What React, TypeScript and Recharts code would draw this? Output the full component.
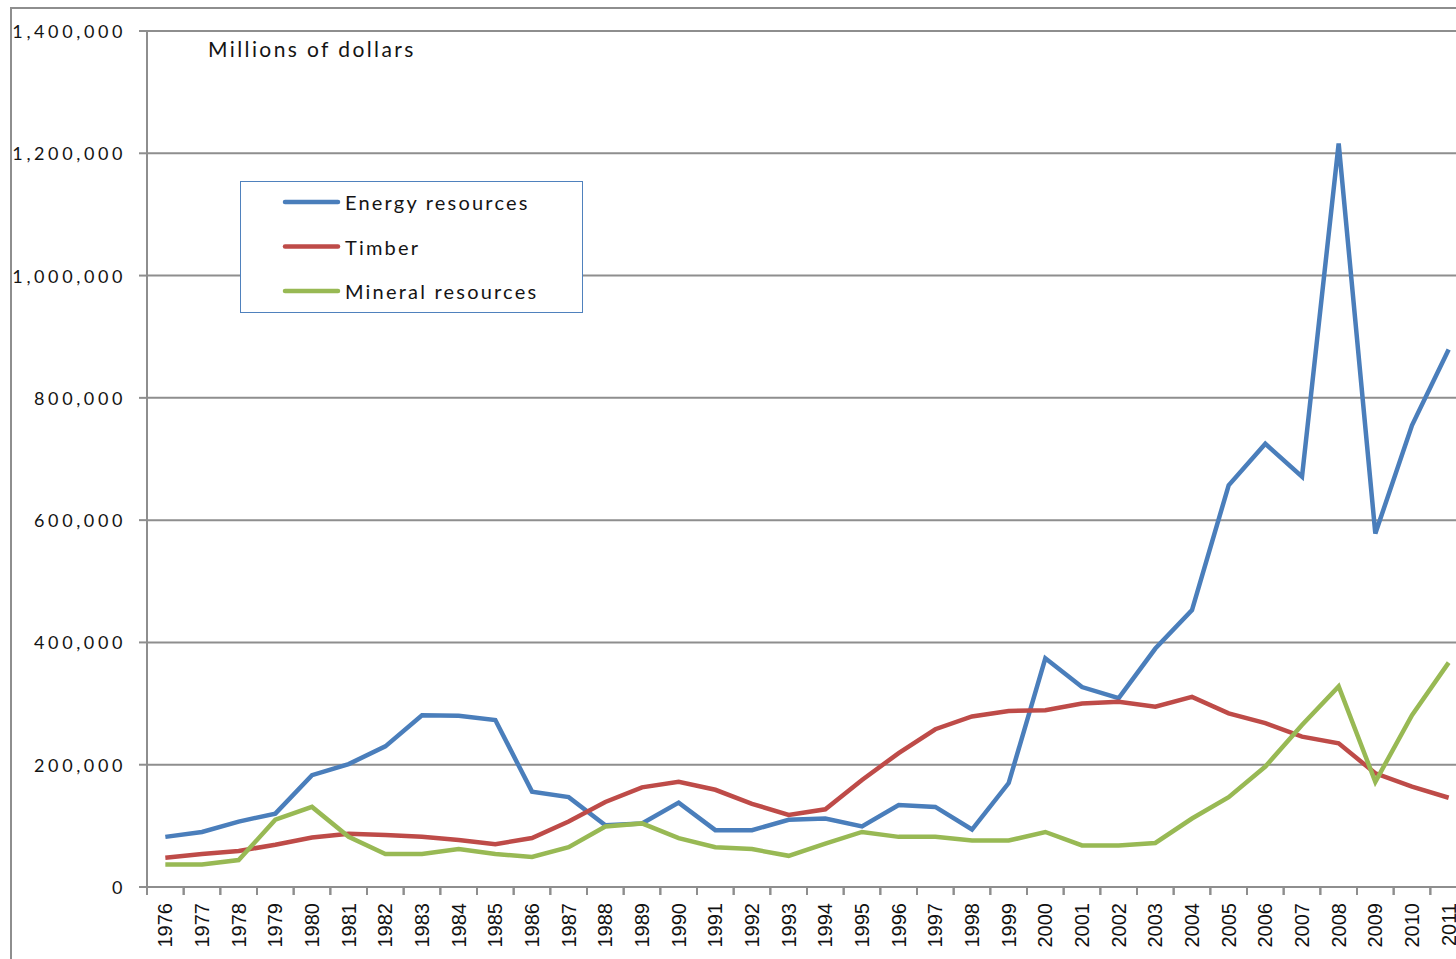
import React from 'react';
import { LineChart, Line, XAxis, YAxis, CartesianGrid, Legend } from 'recharts';

const years = ['1976','1977','1978','1979','1980','1981','1982','1983','1984','1985','1986','1987','1988','1989','1990','1991','1992','1993','1994','1995','1996','1997','1998','1999','2000','2001','2002','2003','2004','2005','2006','2007','2008','2009','2010','2011'];

const energy = [82000,90000,107000,120000,183000,201000,230000,281000,280000,273000,156000,147000,101000,104000,138000,93000,93000,110000,112000,99000,134000,131000,94000,170000,374000,327000,309000,390000,453000,657000,725000,671000,1216000,578000,755000,879000];

const timber = [48000,54000,59000,69000,81000,87000,85000,82000,77000,70000,80000,107000,139000,163000,172000,159000,136000,118000,127000,175000,219000,258000,279000,288000,289000,300000,303000,295000,311000,284000,268000,246000,235000,186000,164000,146000];

const mineral = [37000,37000,44000,110000,131000,82000,54000,54000,62000,54000,49000,65000,99000,104000,80000,65000,62000,51000,71000,90000,82000,82000,76000,76000,90000,68000,68000,72000,112000,147000,197000,265000,328000,172000,281000,367000];

const yTicks = [0,200000,400000,600000,800000,1000000,1200000,1400000];

const seriesNames = ['Energy resources','Timber','Mineral resources'];
const seriesColors = ['#4A7EBB','#BE4B48','#98B954'];

const data = years.map((year, i) => ({
  year,
  energy: energy[i],
  timber: timber[i],
  mineral: mineral[i],
}));

const CHART_W = 1480;
const CHART_H = 1000;
const MARGIN = { top: 31, right: 13, left: 10, bottom: 43 };
const Y_W = 137;
const X_H = 70;
const PLOT_W = CHART_W - MARGIN.left - Y_W - MARGIN.right;
const BAND = PLOT_W / years.length;
const GRID = '#8E8E8E';
const LABEL_FONT = 'Lato, "Open Sans", sans-serif';

const XTick = (props: any) => {
  const { x, y, payload } = props;
  return (
    <g>
      <line x1={x - BAND / 2} x2={x - BAND / 2} y1={y - 16} y2={y - 8} stroke={GRID} strokeWidth={2} />
      <line x1={x + BAND / 2} x2={x + BAND / 2} y1={y - 16} y2={y - 8} stroke={GRID} strokeWidth={2} />
      <text
        x={x}
        y={y}
        transform={`rotate(-90 ${x} ${y})`}
        textAnchor="end"
        dominantBaseline="central"
        fontFamily='"Liberation Sans", Arial, sans-serif'
        fontSize={20}
        fill="#111"
      >
        {payload.value}
      </text>
    </g>
  );
};

const YTick = (props: any) => {
  const { x, y, payload } = props;
  return (
    <text
      x={x}
      y={y}
      textAnchor="end"
      dominantBaseline="central"
      fontFamily={LABEL_FONT}
      fontSize={18}
      letterSpacing={3.6}
      fill="#141414"
    >
      {Number(payload.value).toLocaleString('en-US')}
    </text>
  );
};

const LegendBox = () => (
  <div style={{ width: 343, height: 132, border: '1px solid #4F81BD', background: '#fff', boxSizing: 'border-box' }}>
    <svg width={341} height={130} style={{ display: 'block' }}>
      {seriesNames.map((name, i) => (
        <g key={name}>
          <line x1={44} x2={97} y1={20 + i * 44.5} y2={20 + i * 44.5} stroke={seriesColors[i]} strokeWidth={4.5} strokeLinecap="round" />
          <text x={104} y={20 + i * 44.5} dominantBaseline="central" fontFamily={LABEL_FONT} fontSize={20} letterSpacing={2.2} fill="#141414">
            {name}
          </text>
        </g>
      ))}
    </svg>
  </div>
);

export default function App() {
  return (
    <div style={{ position: 'fixed', left: 0, top: 0, width: 1456, height: 959, overflow: 'hidden', background: '#fff' }}>
      <div style={{ position: 'absolute', left: 10, top: 7, width: 1500, height: 1000, borderLeft: `2px solid ${GRID}`, borderTop: `2px solid ${GRID}`, boxSizing: 'border-box' }} />
      <div style={{ position: 'absolute', left: 0, top: 0 }}>
        <LineChart width={CHART_W} height={CHART_H} data={data} margin={MARGIN}>
          <CartesianGrid vertical={false} stroke={GRID} strokeWidth={2} />
          <XAxis
            dataKey="year"
            height={X_H}
            interval={0}
            padding={{ left: BAND / 2, right: BAND / 2 }}
            tickSize={8}
            tickMargin={8}
            tickLine={false}
            axisLine={{ stroke: GRID, strokeWidth: 2 }}
            tick={<XTick />}
          />
          <YAxis
            width={Y_W}
            domain={[0, 1400000]}
            ticks={yTicks}
            interval={0}
            tickSize={8}
            tickMargin={13}
            tickLine={{ stroke: GRID, strokeWidth: 2 }}
            axisLine={{ stroke: GRID, strokeWidth: 2 }}
            tick={<YTick />}
          />
          <Legend
            layout="vertical"
            align="center"
            verticalAlign="middle"
            wrapperStyle={{ left: 240, top: 181, width: 343, height: 132 }}
            content={<LegendBox />}
          />
          <Line type="linear" dataKey="energy" name={seriesNames[0]} stroke={seriesColors[0]} strokeWidth={4.5} dot={false} isAnimationActive={false} />
          <Line type="linear" dataKey="timber" name={seriesNames[1]} stroke={seriesColors[1]} strokeWidth={4.5} dot={false} isAnimationActive={false} />
          <Line type="linear" dataKey="mineral" name={seriesNames[2]} stroke={seriesColors[2]} strokeWidth={4.5} dot={false} isAnimationActive={false} />
        </LineChart>
      </div>
      <div style={{ position: 'absolute', left: 208, top: 36, fontFamily: LABEL_FONT, fontSize: 21, letterSpacing: 2.4, color: '#141414', whiteSpace: 'nowrap' }}>
        Millions of dollars
      </div>
    </div>
  );
}
